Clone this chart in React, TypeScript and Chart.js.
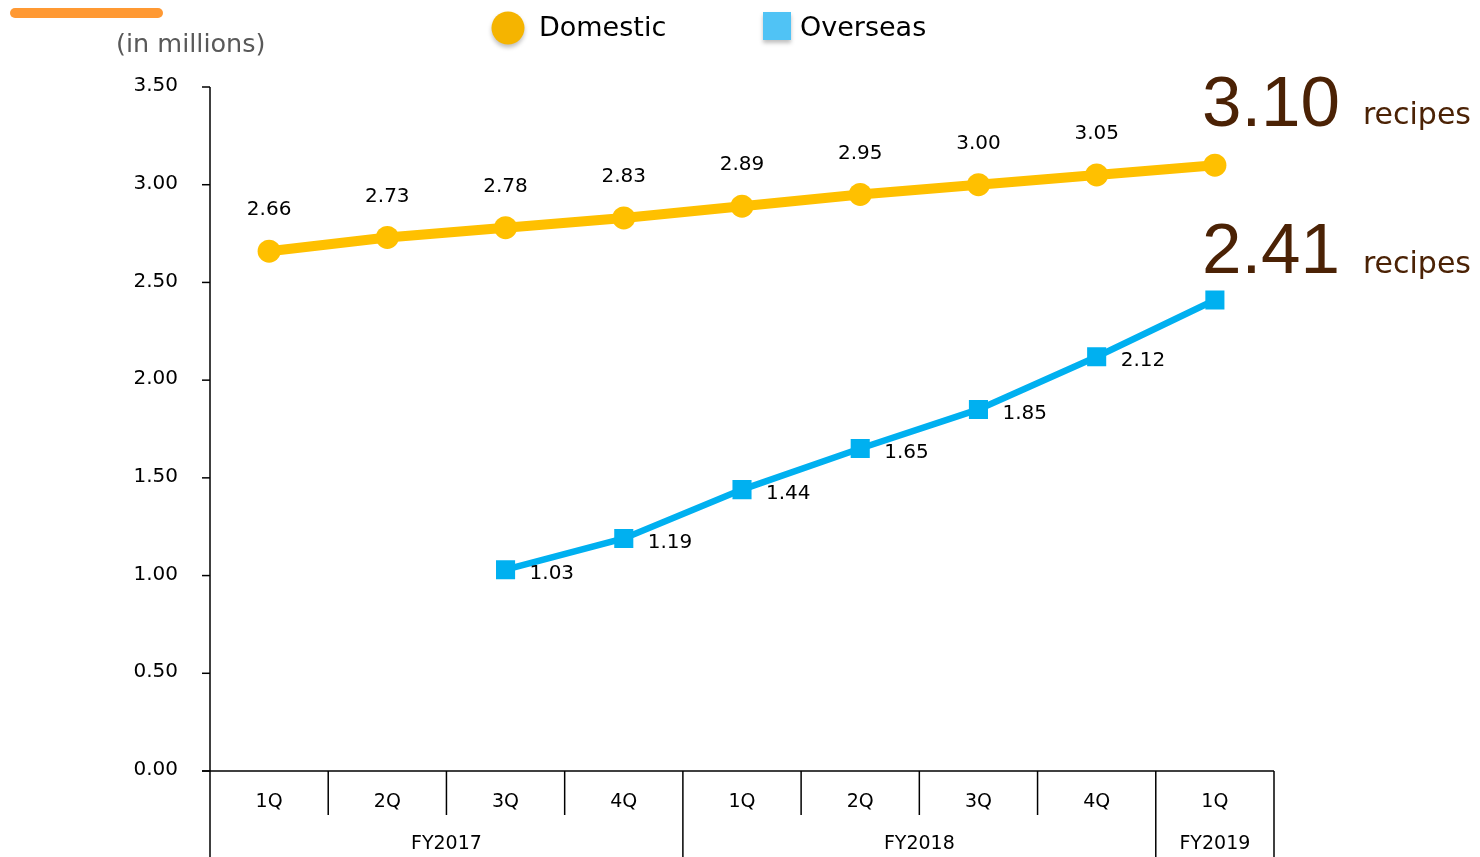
import React, { useEffect, useRef } from "react";
import { Chart, registerables } from "chart.js";

Chart.register(...registerables);

const quarters = ["1Q", "2Q", "3Q", "4Q", "1Q", "2Q", "3Q", "4Q", "1Q"];
const fiscalYears = ["FY2017", "FY2017", "FY2017", "FY2017", "FY2018", "FY2018", "FY2018", "FY2018", "FY2019"];
const domestic = [2.66, 2.73, 2.78, 2.83, 2.89, 2.95, 3.0, 3.05, 3.1];
const overseas = [null, null, 1.03, 1.19, 1.44, 1.65, 1.85, 2.12, 2.41];
const yTicks = [0, 0.5, 1, 1.5, 2, 2.5, 3, 3.5];

const FONT = "'DejaVu Sans', Verdana, sans-serif";
const ORANGE = "#FFC000";
const BLUE = "#00B0F0";
const BROWN = "#4B2205";

const decorPlugin = {
  id: "decor",
  afterDatasetsDraw(chart: any) {
    const ctx = chart.ctx as CanvasRenderingContext2D;
    ctx.save();

    const m0 = chart.getDatasetMeta(0);
    const m1 = chart.getDatasetMeta(1);
    ctx.fillStyle = "#000";
    ctx.font = `20px ${FONT}`;
    ctx.textAlign = "center";
    ctx.textBaseline = "middle";
    domestic.forEach((v, i) => {
      if (i === domestic.length - 1) return;
      const p = m0.data[i];
      ctx.fillText(v.toFixed(2), p.x, p.y - 41);
    });
    ctx.textAlign = "left";
    overseas.forEach((v, i) => {
      if (v == null || i === overseas.length - 1) return;
      const p = m1.data[i];
      ctx.fillText(v.toFixed(2), p.x + 24, p.y + 4);
    });

    const lastD = m0.data[domestic.length - 1];
    const lastO = m1.data[overseas.length - 1];
    ctx.fillStyle = BROWN;
    ctx.textAlign = "left";
    ctx.textBaseline = "alphabetic";
    ctx.font = `71px 'Liberation Sans', sans-serif`;
    ctx.fillText(domestic[domestic.length - 1].toFixed(2), lastD.x - 13, lastD.y - 39);
    ctx.fillText((overseas[overseas.length - 1] as number).toFixed(2), lastO.x - 13, lastO.y - 27);
    ctx.font = `30px ${FONT}`;
    ctx.fillText("recipes", lastD.x + 148, lastD.y - 41);
    ctx.fillText("recipes", lastO.x + 148, lastO.y - 27);

    ctx.restore();
  },
  beforeDatasetsDraw(chart: any) {
    const ctx = chart.ctx as CanvasRenderingContext2D;
    const xs = chart.scales.x;
    const ys = chart.scales.y;
    const area = chart.chartArea;
    const bottomEdge = chart.height;
    ctx.save();
    ctx.strokeStyle = "#000";
    ctx.lineWidth = 1.5;

    ctx.beginPath();
    ctx.moveTo(area.left, area.top);
    ctx.lineTo(area.left, bottomEdge);
    ctx.stroke();
    ctx.beginPath();
    ctx.moveTo(area.left - 8, area.bottom);
    ctx.lineTo(area.right, area.bottom);
    ctx.stroke();

    ctx.fillStyle = "#000";
    ctx.font = `20px ${FONT}`;
    ctx.textAlign = "right";
    ctx.textBaseline = "middle";
    yTicks.forEach((t) => {
      const y = ys.getPixelForValue(t);
      ctx.beginPath();
      ctx.moveTo(area.left - 8, y);
      ctx.lineTo(area.left, y);
      ctx.stroke();
      ctx.fillText(t.toFixed(2), area.left - 32, y - 1);
    });

    const n = quarters.length;
    for (let i = 0; i < n; i++) {
      const xr = i < n - 1 ? (xs.getPixelForValue(i) + xs.getPixelForValue(i + 1)) / 2 : area.right;
      const long = i === n - 1 || fiscalYears[i] !== fiscalYears[i + 1];
      ctx.beginPath();
      ctx.moveTo(xr, area.bottom);
      ctx.lineTo(xr, long ? bottomEdge : area.bottom + 44);
      ctx.stroke();
    }

    ctx.font = `19px ${FONT}`;
    ctx.textAlign = "center";
    quarters.forEach((q, i) => {
      ctx.fillText(q, xs.getPixelForValue(i), area.bottom + 31);
    });
    const groups: { name: string; start: number; end: number }[] = [];
    fiscalYears.forEach((fy, i) => {
      const g = groups[groups.length - 1];
      if (g && g.name === fy) g.end = i;
      else groups.push({ name: fy, start: i, end: i });
    });
    groups.forEach((g) => {
      const cx = (xs.getPixelForValue(g.start) + xs.getPixelForValue(g.end)) / 2;
      ctx.fillText(g.name, cx, area.bottom + 73);
    });

    ctx.fillStyle = "#595959";
    ctx.font = `25.5px ${FONT}`;
    ctx.textAlign = "left";
    ctx.fillText("(in millions)", 116, 45);

    ctx.fillStyle = "#FF9933";
    ctx.beginPath();
    (ctx as any).roundRect(10, 8, 153, 10, 5);
    ctx.fill();

    ctx.save();
    ctx.shadowColor = "rgba(0,0,0,0.25)";
    ctx.shadowBlur = 4;
    ctx.shadowOffsetY = 3;
    ctx.fillStyle = "#F5B400";
    ctx.beginPath();
    ctx.arc(508, 28, 16.5, 0, Math.PI * 2);
    ctx.fill();
    ctx.fillStyle = "#50C3F5";
    ctx.fillRect(763, 12, 28, 28);
    ctx.restore();
    ctx.fillStyle = "#000";
    ctx.font = `27px ${FONT}`;
    ctx.textBaseline = "middle";
    ctx.fillText("Domestic", 539, 29);
    ctx.fillText("Overseas", 800, 29);

    ctx.restore();
  },
};

export default function App() {
  const ref = useRef<HTMLCanvasElement>(null);
  useEffect(() => {
    if (!ref.current) return;
    const chart = new Chart(ref.current, {
      type: "line",
      data: {
        labels: quarters,
        datasets: [
          {
            label: "Domestic",
            data: domestic,
            borderColor: ORANGE,
            backgroundColor: ORANGE,
            borderWidth: 10,
            pointStyle: "circle",
            pointRadius: 11.5,
            pointBorderWidth: 0,
            pointBackgroundColor: ORANGE,
            tension: 0,
          },
          {
            label: "Overseas",
            data: overseas,
            borderColor: BLUE,
            backgroundColor: BLUE,
            borderWidth: 6.5,
            pointStyle: "rect",
            pointRadius: 13.5,
            pointBorderWidth: 0,
            pointBackgroundColor: BLUE,
            tension: 0,
          },
        ],
      },
      options: {
        responsive: false,
        animation: false,
        devicePixelRatio: 1,
        layout: { padding: { left: 210, right: 206, top: 87, bottom: 86 } },
        plugins: { legend: { display: false }, tooltip: { enabled: false } },
        scales: {
          x: { type: "category", offset: true, display: false },
          y: { min: 0, max: 3.5, display: false },
        },
      },
      plugins: [decorPlugin],
    });
    return () => chart.destroy();
  }, []);
  return (
    <div style={{ position: "absolute", left: 0, top: 0, width: 1480, height: 857, background: "#fff" }}>
      <canvas ref={ref} width={1480} height={857} style={{ display: "block" }} />
    </div>
  );
}
